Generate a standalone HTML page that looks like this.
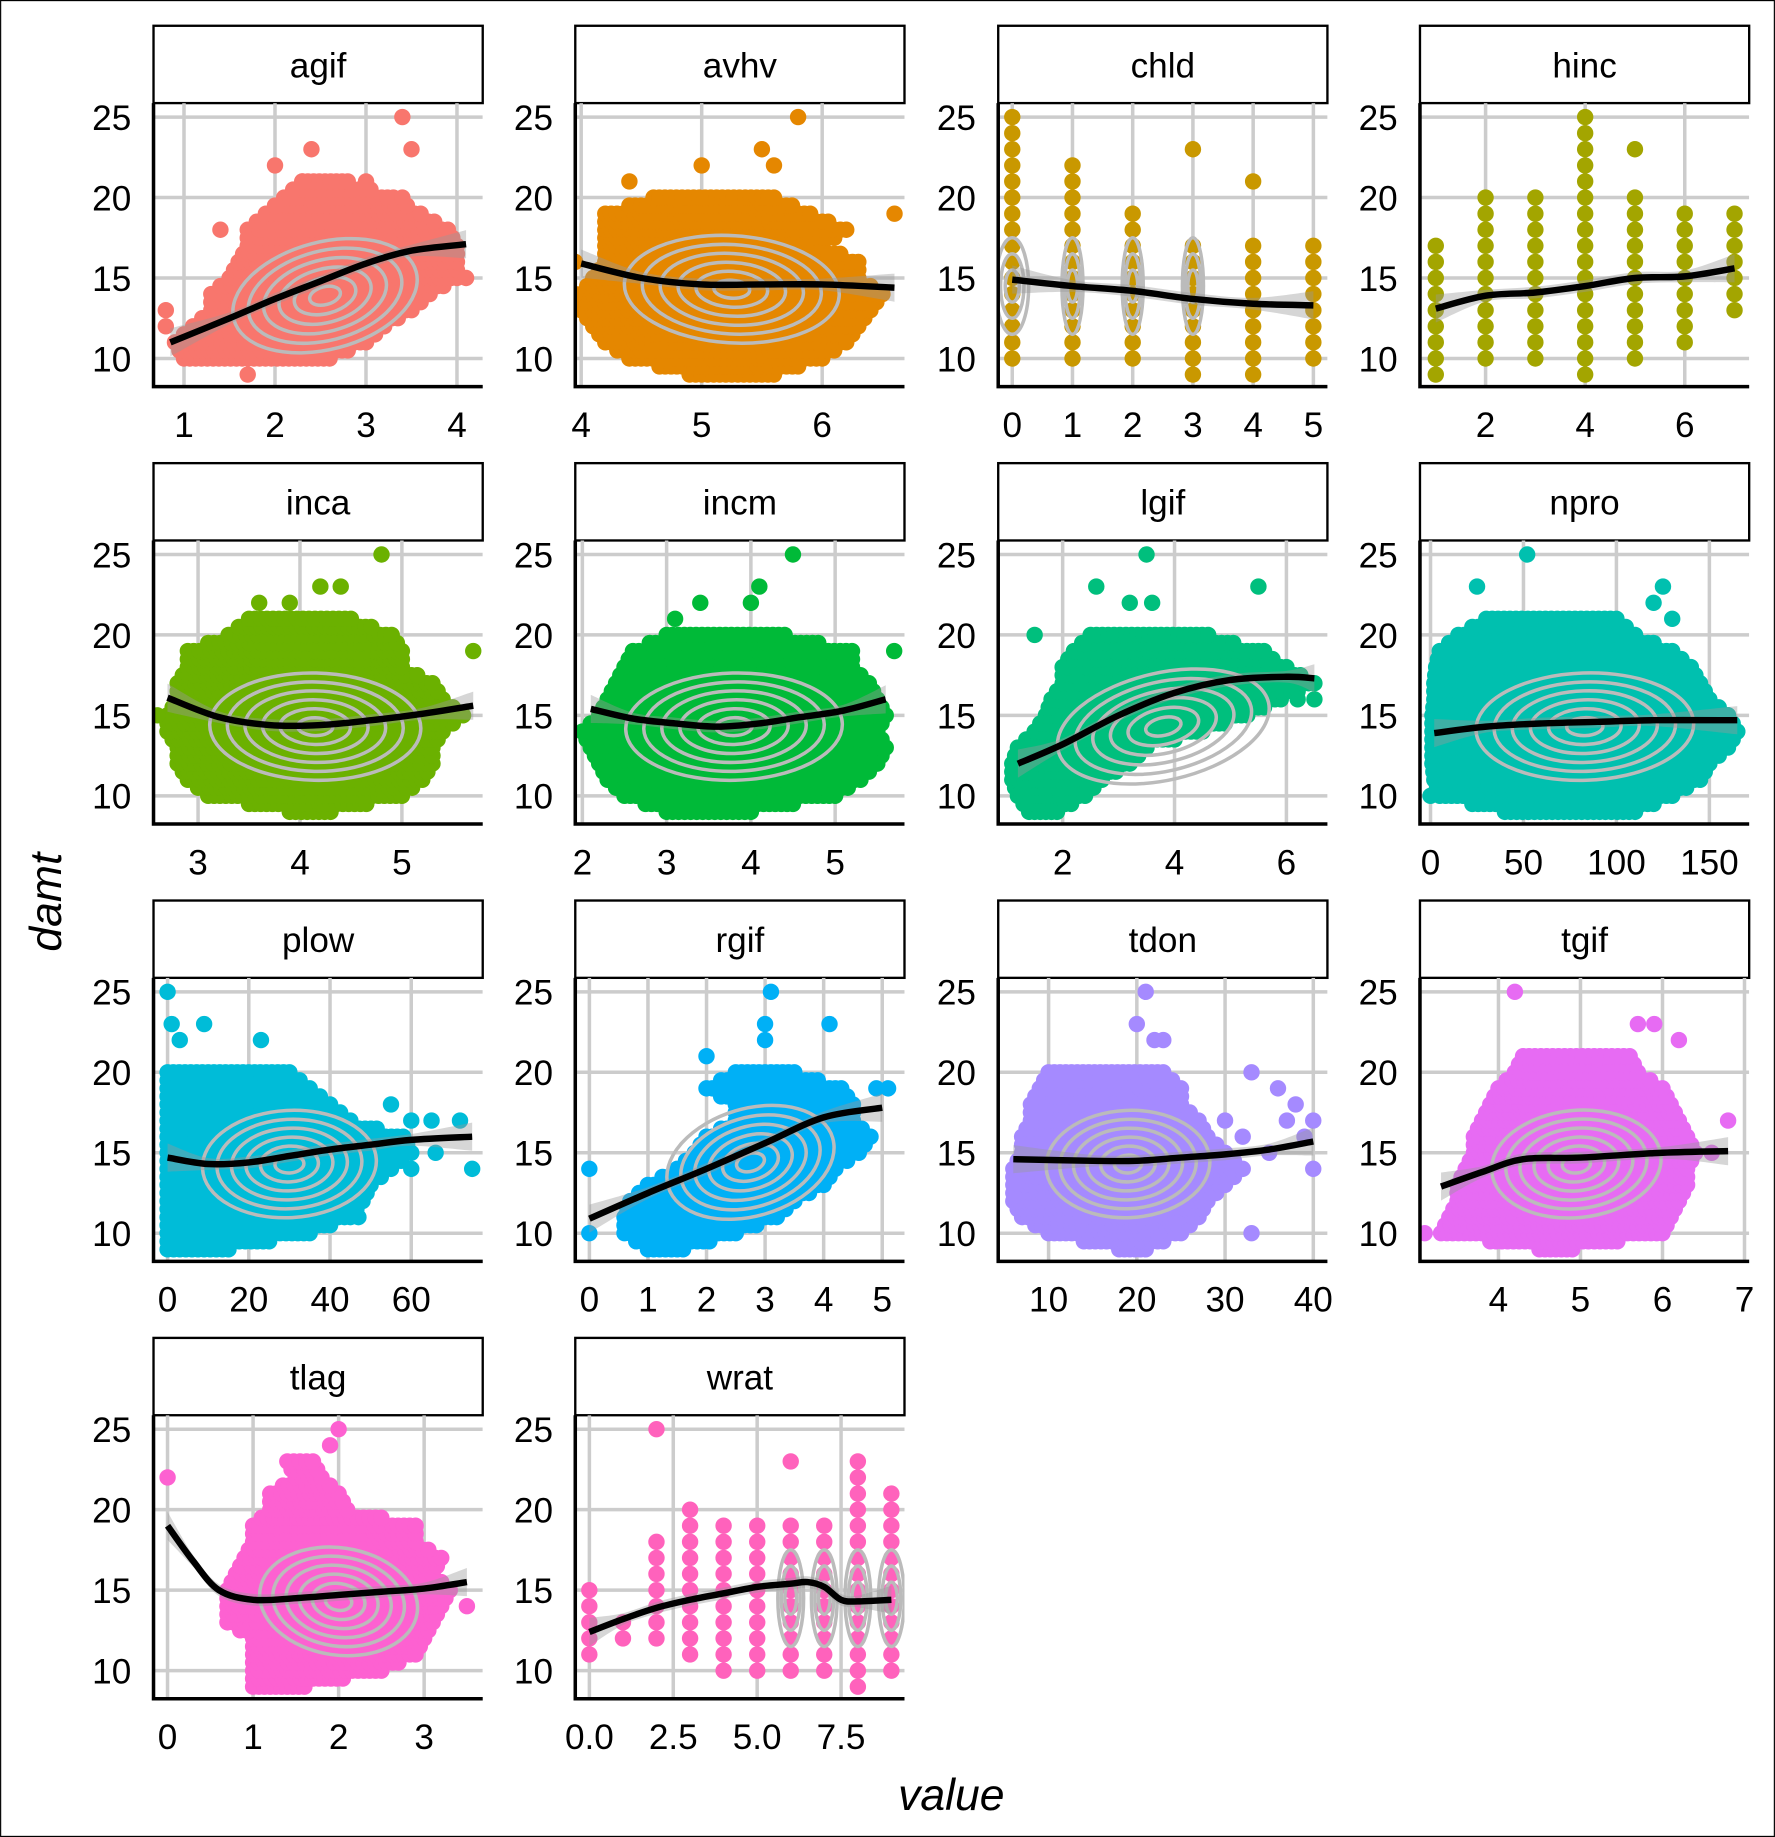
<!DOCTYPE html>
<html><head><meta charset="utf-8"><style>
html,body{margin:0;padding:0;background:#fff}
svg{display:block}
text{font-family:"Liberation Sans",Arial,sans-serif;fill:#000}
</style></head><body>
<svg id="chart" xmlns="http://www.w3.org/2000/svg" width="1775" height="1837" viewBox="0 0 1515 1568">
<rect x="0.5" y="0.5" width="1514" height="1567" fill="#fff" stroke="#000" stroke-width="1"/>
<text transform="translate(52,770) rotate(-90)" text-anchor="middle" font-size="38" font-style="italic">damt</text>
<text x="812" y="1545" text-anchor="middle" font-size="38" font-style="italic">value</text>
</svg>
<script>
const panelNames=['agif','avhv','chld','hinc','inca','incm','lgif','npro','plow','rgif','tdon','tgif','tlag','wrat'];
const panelColors=['#F8766D','#E58700','#C99800','#A3A500','#6BB100','#00BA38','#00BF7D','#00C0AF','#00BCD8','#00B0F6','#A58AFF','#E76BF3','#FD61D1','#FF62BC'];
const yTicks=[10,15,20,25];
const yDomain=[8.25,25.87];
const xDomains=[[0.665,4.283],[3.951,6.683],[-0.233,5.233],[0.682,7.294],[2.563,5.793],[1.916,5.823],[0.848,6.733],[-5.67,171.4],[-3.46,77.6],[-0.241,5.38],[4.29,41.6],[3.043,7.057],[-0.164,3.685],[-0.42,9.39]];
const xTicks=[[1,2,3,4],[4,5,6],[0,1,2,3,4,5],[2,4,6],[3,4,5],[2,3,4,5],[2,4,6],[0,50,100,150],[0,20,40,60],[0,1,2,3,4,5],[10,20,30,40],[4,5,6,7],[0,1,2,3],[0,2.5,5,7.5]];
const xTickLabels=[['1','2','3','4'],['4','5','6'],['0','1','2','3','4','5'],['2','4','6'],['3','4','5'],['2','3','4','5'],['2','4','6'],['0','50','100','150'],['0','20','40','60'],['0','1','2','3','4','5'],['10','20','30','40'],['4','5','6','7'],['0','1','2','3'],['0.0','2.5','5.0','7.5']];
const agifRows=[[10,1.0,2.6],[11,0.9,3.0],[12,1.1,3.2],[13,1.3,3.5],[14,1.3,3.7],[15,1.5,4.0],[16,1.6,4.0],[17,1.7,4.0],[18,1.7,3.9],[19,1.9,3.6],[20,2.1,3.3],[21,2.3,2.8]];
const avhvRows=[[9,4.9,5.6],[10,4.4,6.0],[11,4.2,6.2],[12,4.1,6.3],[13,4.0,6.4],[14,4.0,6.5],[15,4.1,6.3],[16,4.2,6.3],[17,4.2,6.0],[18,4.2,6.2],[19,4.2,5.9],[20,4.6,5.6]];
const incaRows=[[9,3.9,4.3],[10,3.1,5.0],[11,2.9,5.2],[12,2.8,5.3],[13,2.8,5.3],[14,2.7,5.4],[15,2.7,5.6],[16,2.8,5.4],[17,2.8,5.3],[18,2.9,5.0],[19,2.9,5.0],[20,3.3,4.9],[21,3.5,4.5]];
const incmRows=[[9,3.0,4.0],[10,2.5,5.0],[11,2.3,5.3],[12,2.2,5.5],[13,2.1,5.6],[14,2.0,5.5],[15,2.2,5.6],[16,2.3,5.5],[17,2.4,5.4],[18,2.5,5.2],[19,2.6,5.2],[20,3.0,4.4]];
const lgifRows=[[9,1.4,1.9],[10,1.2,2.4],[11,1.1,2.7],[12,1.1,3.2],[13,1.2,3.5],[14,1.5,4.5],[15,1.7,5.3],[16,1.8,5.9],[17,2.0,6.5],[18,2.0,6.0],[19,2.2,5.5],[20,2.5,4.6]];
const nproRows=[[9,40,110],[10,5,130],[11,2,145],[12,1,150],[13,1,160],[14,1,165],[15,1,160],[16,2,150],[17,2,145],[18,3,140],[19,5,130],[20,15,110],[21,30,100]];
const plowRows=[[9,0,15],[10,0,35],[11,0,45],[12,0,48],[13,0,50],[14,0,55],[15,0,60],[16,0,58],[17,0,45],[18,0,40],[19,0,35],[20,0,30]];
const rgifRows=[[9,1.0,1.6],[10,0.6,2.5],[11,0.6,3.2],[12,0.7,3.5],[13,1.0,4.0],[14,1.5,4.2],[15,1.8,4.6],[16,2.0,4.8],[17,2.5,4.5],[18,2.5,4.5],[19,2.0,4.3],[20,2.5,3.5]];
const tdonRows=[[9,18,21],[10,10,25],[11,7,27],[12,6,28],[13,6,30],[14,6,32],[15,7,30],[16,7,28],[17,8,27],[18,8,25],[19,9,25],[20,10,23]];
const tgifRows=[[9,4.5,4.9],[10,3.3,6.0],[11,3.4,6.1],[12,3.5,6.2],[13,3.5,6.3],[14,3.6,6.3],[15,3.7,6.4],[16,3.7,6.3],[17,3.8,6.2],[18,3.9,6.1],[19,4.0,6.0],[20,4.2,5.7],[21,4.3,5.6]];
const tlagRows=[[9,1.0,1.6],[10,1.0,2.5],[11,1.0,2.9],[12,1.0,3.0],[13,0.7,3.1],[14,0.7,3.2],[15,0.7,3.3],[16,0.8,3.1],[17,0.9,3.2],[18,1.0,2.9],[19,1.0,2.9],[20,1.2,2.1],[21,1.2,2.0],[22,1.5,1.8],[23,1.4,1.7]];
const chldCols=[[0,10,25],[1,10,22],[2,10,19],[3,9,17],[4,9,17],[5,10,17]];
const hincCols=[[1,9,17],[2,10,20],[3,10,20],[4,9,25],[5,10,20],[6,11,19],[7,13,19]];
const wratCols=[[0,11,15],[1,12,13],[2,12,18],[3,11,20],[4,10,19],[5,10,19],[6,10,19],[7,10,19],[8,9,23],[9,10,21]];
const agifOut=[[1.7,9],[0.8,13],[0.8,12],[4.1,15],[2.0,22],[2.4,23],[3.4,25],[3.5,23],[3.0,21],[3.4,20],[1.4,18],[2.3,21]];
const avhvOut=[[4.4,21],[5.0,22],[5.5,23],[5.6,22],[5.8,25],[6.6,19],[3.95,16],[3.95,14]];
const chldOut=[[3,23],[4,21]];
const hincOut=[[5,23]];
const incaOut=[[3.6,22],[3.9,22],[4.2,23],[4.4,23],[4.8,25],[5.7,19],[2.6,15]];
const incmOut=[[3.1,21],[3.4,22],[4.0,22],[4.1,23],[4.5,25],[5.7,19],[2.1,14]];
const lgifOut=[[1.5,20],[3.5,25],[2.6,23],[3.2,22],[3.6,22],[5.5,23],[6.5,16],[6.2,16],[5.6,19]];
const nproOut=[[25,23],[52,25],[120,22],[125,23],[130,21],[165,14],[160,15],[0,10]];
const plowOut=[[0,25],[1,23],[3,22],[9,23],[23,22],[60,17],[65,17],[72,17],[75,14],[66,15],[60,14],[47,11],[55,18]];
const rgifOut=[[0,10],[0,14],[2,21],[3.0,23],[3.0,22],[3.1,25],[4.1,23],[5.1,19],[4.9,19]];
const tdonOut=[[21,25],[20,23],[22,22],[23,22],[33,20],[36,19],[38,18],[40,14],[39,16],[37,17],[30,17],[32,16],[35,15],[33,10],[40,17]];
const tgifOut=[[4.2,25],[5.7,23],[5.9,23],[6.2,22],[6.8,17],[6.6,15],[3.1,10]];
const tlagOut=[[0,22],[2.0,25],[3.5,14],[1.9,24]];
const wratOut=[[2,25],[6,23]];
const agifSmoothX=[0.85,1.5,2,2.5,3,3.5,4.1],agifSmoothY=[11,12.5,13.7,14.8,15.9,16.7,17.1];
const avhvSmoothX=[4,4.5,5,5.5,6,6.6],avhvSmoothY=[15.9,15.0,14.6,14.6,14.6,14.4];
const chldSmoothX=[0,1,2,3,4,5],chldSmoothY=[14.9,14.5,14.2,13.7,13.4,13.3];
const hincSmoothX=[1,2,3,4,5,6,7],hincSmoothY=[13.1,13.9,14.1,14.5,15.0,15.1,15.6];
const incaSmoothX=[2.7,3.2,3.7,4.2,4.7,5.2,5.7],incaSmoothY=[16.1,14.9,14.4,14.4,14.7,15.1,15.6];
const incmSmoothX=[2.1,2.6,3.1,3.6,4.1,4.6,5.1,5.6],incmSmoothY=[15.4,14.8,14.5,14.3,14.5,14.9,15.3,16.0];
const lgifSmoothX=[1.2,2,3,4,5,6,6.5],lgifSmoothY=[12.0,13.2,15.0,16.4,17.2,17.4,17.3];
const nproSmoothX=[2,30,60,90,120,165],nproSmoothY=[13.9,14.3,14.5,14.6,14.7,14.7];
const plowSmoothX=[0,10,20,30,40,50,60,75],plowSmoothY=[14.7,14.3,14.4,14.8,15.2,15.5,15.8,16.0];
const rgifSmoothX=[0,1,2,3,4,5],rgifSmoothY=[10.9,12.5,14.0,15.6,17.2,17.8];
const tdonSmoothX=[6,15,20,25,30,35,40],tdonSmoothY=[14.6,14.5,14.5,14.7,14.9,15.2,15.7];
const tgifSmoothX=[3.3,3.8,4.3,5,6,6.8],tgifSmoothY=[12.9,13.8,14.6,14.7,15.0,15.1];
const tlagSmoothX=[0,0.3,0.6,1.0,1.5,2,2.5,3,3.5],tlagSmoothY=[19,16.8,15.0,14.4,14.5,14.7,14.9,15.1,15.5];
const wratSmoothX=[0,1,2,3,4,5,6,6.5,7,7.5,8,9],wratSmoothY=[12.4,13.2,13.9,14.4,14.8,15.2,15.4,15.5,15.2,14.4,14.3,14.4];

const rowsBy={agif:agifRows,avhv:avhvRows,inca:incaRows,incm:incmRows,lgif:lgifRows,npro:nproRows,plow:plowRows,rgif:rgifRows,tdon:tdonRows,tgif:tgifRows,tlag:tlagRows};
const colsBy={chld:chldCols,hinc:hincCols,wrat:wratCols};
const outBy={agif:agifOut,avhv:avhvOut,chld:chldOut,hinc:hincOut,inca:incaOut,incm:incmOut,lgif:lgifOut,npro:nproOut,plow:plowOut,rgif:rgifOut,tdon:tdonOut,tgif:tgifOut,tlag:tlagOut,wrat:wratOut};
const smoothBy={agif:[agifSmoothX,agifSmoothY],avhv:[avhvSmoothX,avhvSmoothY],chld:[chldSmoothX,chldSmoothY],hinc:[hincSmoothX,hincSmoothY],inca:[incaSmoothX,incaSmoothY],incm:[incmSmoothX,incmSmoothY],lgif:[lgifSmoothX,lgifSmoothY],npro:[nproSmoothX,nproSmoothY],plow:[plowSmoothX,plowSmoothY],rgif:[rgifSmoothX,rgifSmoothY],tdon:[tdonSmoothX,tdonSmoothY],tgif:[tgifSmoothX,tgifSmoothY],tlag:[tlagSmoothX,tlagSmoothY],wrat:[wratSmoothX,wratSmoothY]};

const NS='http://www.w3.org/2000/svg';
const svg=document.getElementById('chart');
function mk(tag,attrs,parent){const e=document.createElementNS(NS,tag);for(const k in attrs)e.setAttribute(k,attrs[k]);(parent||svg).appendChild(e);return e;}
const colX=[131,491,852,1212],W=281,SH=66,PH=242;
function catmull(pts){let d='M'+pts[0][0]+','+pts[0][1];for(let i=0;i<pts.length-1;i++){const p0=pts[Math.max(0,i-1)],p1=pts[i],p2=pts[i+1],p3=pts[Math.min(pts.length-1,i+2)];d+=' C'+(p1[0]+(p2[0]-p0[0])/6)+','+(p1[1]+(p2[1]-p0[1])/6)+' '+(p2[0]-(p3[0]-p1[0])/6)+','+(p2[1]-(p3[1]-p1[1])/6)+' '+p2[0]+','+p2[1];}return d;}

panelNames.forEach((name,i)=>{
  const px=colX[i%4], top=22+Math.floor(i/4)*373.33, ptop=top+SH, pbot=ptop+PH;
  const dom=xDomains[i], color=panelColors[i];
  const sx=v=>px+(v-dom[0])/(dom[1]-dom[0])*W;
  const sy=v=>pbot-(v-yDomain[0])/(yDomain[1]-yDomain[0])*PH;
  const g=mk('g',{});
  
  
  const strip=mk('rect',{x:px,y:top,width:W,height:SH,fill:'#fff',stroke:'#000','stroke-width':2},g);
  
  
  const st=mk('text',{x:px+W/2,y:top+44,'text-anchor':'middle','font-size':30},g);st.textContent=name;
  
  
  const cid='clip'+i;
  const cp=mk('clipPath',{id:cid},g);mk('rect',{x:px,y:ptop,width:W,height:PH},cp);
  const plot=mk('g',{'clip-path':'url(#'+cid+')'},g);
  
  
  yTicks.forEach(t=>{const l=mk('line',{x1:px,x2:px+W,y1:sy(t),y2:sy(t),stroke:'#CCCCCC','stroke-width':3},plot);
    
    });
  xTicks[i].forEach(t=>{const l=mk('line',{x1:sx(t),x2:sx(t),y1:ptop,y2:pbot,stroke:'#CCCCCC','stroke-width':3},plot);
    
    });
  const dots=mk('g',{fill:color},plot);
  
  
  const dot=(x,y)=>{mk('circle',{cx:x.toFixed(1),cy:y.toFixed(1),r:7},dots);};
  if(rowsBy[name]){
    rowsBy[name].forEach((r,k)=>{
      const y=sy(r[0]),a=sx(r[1]),b=sx(r[2]);const n=Math.max(1,Math.round((b-a)/5));
      for(let j=0;j<=n;j++)dot(a+(b-a)*j/n,y);
      const nx=rowsBy[name][k+1];
      if(nx){const a2=(a+sx(nx[1]))/2,b2=(b+sx(nx[2]))/2,y2=(y+sy(nx[0]))/2;const n2=Math.max(1,Math.round((b2-a2)/5));for(let j=0;j<=n2;j++)dot(a2+(b2-a2)*j/n2,y2);}
    });
  }
  if(colsBy[name]){
    colsBy[name].forEach(c=>{for(let v=c[1];v<=c[2];v++)dot(sx(c[0]),sy(v));});
  }
  outBy[name].forEach(o=>dot(sx(o[0]),sy(o[1])));
  const sm=smoothBy[name];
  const pts=sm[0].map((x,k)=>[sx(x),sy(sm[1][k])]);
  const cg=mk('g',{fill:'none',stroke:'#BBBBBB','stroke-width':3},plot);
  
  
  if(rowsBy[name]){
    const rows=rowsBy[name];const mid=rows.filter(r=>r[0]>=12&&r[0]<=17);
    const xmin=Math.min(...mid.map(r=>r[1])),xmax=Math.max(...mid.map(r=>r[2]));
    const cx=(sx(xmin)+sx(xmax))/2;
    let cy=sy(14.3);
    const p0=pts[0],p1=pts[pts.length-1];
    const slope=(p1[1]-p0[1])/(p1[0]-p0[0]);
    let ang=Math.atan(slope)*180/Math.PI;ang=Math.max(-35,Math.min(35,ang))*0.8;
    if(Math.abs(ang)>10){cy=p0[1]+slope*(cx-p0[0])+4;}
    const rx=(sx(xmax)-sx(xmin))/2*0.75, ry=(sy(11)-sy(18))/2;
    for(let k=1;k<=6;k++){const f=k/6.3;mk('ellipse',{cx:cx,cy:cy,rx:rx*f,ry:ry*f,transform:'rotate('+ang+' '+cx+' '+cy+')'},cg);}
  } else {
    colsBy[name].forEach(c=>{const x=sx(c[0]);let w=0;
      if(name==='chld')w=c[0]===0?12:(c[0]<=3?7:0);
      if(name==='wrat')w=c[0]>=6?9:0;
      if(!w)return;for(let k=1;k<=3;k++)mk('ellipse',{cx:x,cy:sy(14.5),rx:w*k/3+2,ry:(sy(11.5)-sy(17.5))/2*k/3},cg);});
  }
  const up=pts.map((p,k)=>[p[0],p[1]-((k===0||k===pts.length-1)?12:5)]);
  const dn=pts.map((p,k)=>[p[0],p[1]+((k===0||k===pts.length-1)?12:5)]).reverse();
  const rib=mk('path',{d:catmull(up)+' L'+dn[0][0]+','+dn[0][1]+catmull(dn).replace(/^M[^ ]+/,'')+' Z',fill:'#999','fill-opacity':0.4},plot);
  
  
  const ln=mk('path',{d:catmull(pts),fill:'none',stroke:'#000','stroke-width':5.5},plot);
  
  
  const ax=mk('path',{d:'M'+px+','+ptop+' V'+pbot+' H'+(px+W),fill:'none',stroke:'#000','stroke-width':3},g);
  
  
  yTicks.forEach(t=>{const tx=mk('text',{x:px-19,y:sy(t)+11,'text-anchor':'end','font-size':30},g);tx.textContent=String(t);
    
    });
  xTicks[i].forEach((t,k)=>{const tx=mk('text',{x:sx(t),y:pbot+43,'text-anchor':'middle','font-size':30},g);tx.textContent=xTickLabels[i][k];
    
    });
});
</script>
</body></html>
